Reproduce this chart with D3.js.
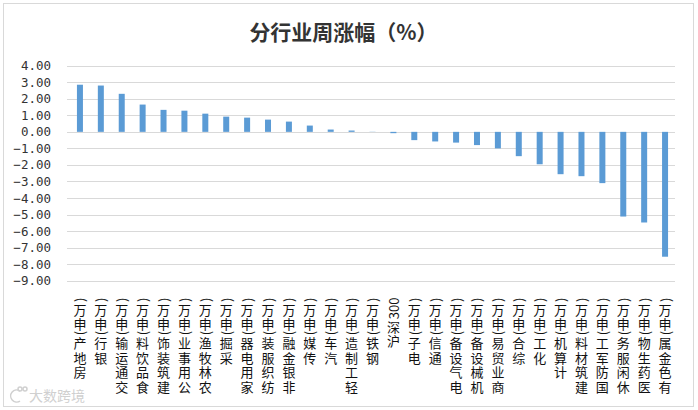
<!DOCTYPE html>
<html><head><meta charset="utf-8">
<script src="https://cdn.jsdelivr.net/npm/d3@7"></script>
<style>
html,body{margin:0;padding:0;background:#fff;}
svg{display:block;}
</style></head>
<body>
<svg id="chart" width="698" height="410"></svg>
<script>
const categories = ["房地产(申万)","银行(申万)","交通运输(申万)","食品饮料(申万)","建筑装饰(申万)","公用事业(申万)","农林牧渔(申万)","采掘(申万)","家用电器(申万)","纺织服装(申万)","非银金融(申万)","传媒(申万)","汽车(申万)","轻工制造(申万)","钢铁(申万)","沪深300","电子(申万)","通信(申万)","电气设备(申万)","机械设备(申万)","商业贸易(申万)","综合(申万)","化工(申万)","计算机(申万)","建筑材料(申万)","国防军工(申万)","休闲服务(申万)","医药生物(申万)","有色金属(申万)"];
const values = [2.85,2.80,2.30,1.65,1.33,1.28,1.10,0.92,0.86,0.74,0.62,0.38,0.14,0.08,0.01,-0.08,-0.50,-0.58,-0.65,-0.80,-1.00,-1.47,-1.96,-2.56,-2.68,-3.10,-5.12,-5.48,-7.55];
const yTicks = [4,3,2,1,0,-1,-2,-3,-4,-5,-6,-7,-8,-9];
const title = "分行业周涨幅（%）";
const watermark = "大数跨境";

const svg = d3.select("#chart");
const W = 698, H = 410;

// outer frame
svg.append("rect").attr("x",3.5).attr("y",3.5).attr("width",W-8).attr("height",H-7)
  .attr("fill","#fff").attr("stroke","#d9d9d9").attr("stroke-width",1);

const x = d3.scaleBand().domain(categories).range([69.5,675.5]).paddingInner(0.713).paddingOuter(0.356);
const y = d3.scaleLinear().domain([-9,4]).range([280.7,65.7]);

// title
svg.append("text").attr("x",343.5).attr("y",40).attr("text-anchor","middle")
  .attr("font-family","'Noto Sans CJK SC', sans-serif").attr("font-size",21)
  .attr("font-weight","bold").attr("fill","#333").text(title);

// gridlines
svg.append("g").selectAll("line").data(yTicks).join("line")
  .attr("x1",67).attr("x2",675)
  .attr("y1",d=>Math.round(y(d))+0.5).attr("y2",d=>Math.round(y(d))+0.5)
  .attr("stroke","#d9d9d9").attr("stroke-width",1);

// y axis labels
const yAxis = d3.axisLeft(y).tickValues(yTicks).tickFormat(d3.format(".2f")).tickSize(0).tickPadding(0);
const ga = svg.append("g").attr("transform","translate(51,0)").call(yAxis);
ga.select(".domain").remove();
ga.selectAll("text").attr("font-family","'DejaVu Sans Mono', monospace").attr("font-size",12.5).attr("fill","#333");

// bars
svg.append("g").selectAll("rect").data(values).join("rect")
  .attr("x",(d,i)=>x(categories[i]))
  .attr("width",x.bandwidth())
  .attr("y",d=>y(Math.max(0,d)))
  .attr("height",d=>Math.abs(y(d)-y(0)))
  .attr("fill","#5b9bd5");

// x labels: read bottom-to-top, CJK upright, others rotated
const fs = 13, cjkAdv = 14.5, topY = 297.5;
const isCJK = c => /[\u3000-\u9fff\uff00-\uffef]/.test(c);
const meas = svg.append("text").attr("font-family","'Noto Sans CJK SC', sans-serif").attr("font-size",fs).attr("visibility","hidden");
const widthOf = c => { meas.text(c); return meas.node().getComputedTextLength(); };
const gl = svg.append("g").attr("font-family","'Noto Sans CJK SC', sans-serif").attr("font-size",fs).attr("fill","#111");
categories.forEach(cat=>{
  const cx = x(cat) + x.bandwidth()/2;
  const chars = Array.from(cat).reverse();
  let cur = topY;
  chars.forEach(c=>{
    if(isCJK(c)){
      gl.append("text").attr("x",cx).attr("y",cur+cjkAdv/2)
        .attr("text-anchor","middle").attr("dominant-baseline","central").text(c);
      cur += cjkAdv;
    } else {
      const w = widthOf(c);
      gl.append("text").attr("transform",`translate(${cx},${cur+w}) rotate(-90)`)
        .attr("text-anchor","start").attr("dominant-baseline","central").text(c);
      cur += w;
    }
  });
});
meas.remove();

// watermark
const wm = svg.append("g").attr("fill","none").attr("stroke","#d0d0d0").attr("stroke-width",1.5);
wm.append("path").attr("d","M20,391 A6,6 0 1 0 20,401");
wm.append("circle").attr("cx",20).attr("cy",389).attr("r",2);
wm.append("circle").attr("cx",25).attr("cy",389).attr("r",2);
svg.append("text").attr("x",29).attr("y",401).attr("font-family","'Noto Sans CJK SC', sans-serif")
  .attr("font-size",14).attr("fill","#d0d0d0").text(watermark);
</script>
</body></html>
